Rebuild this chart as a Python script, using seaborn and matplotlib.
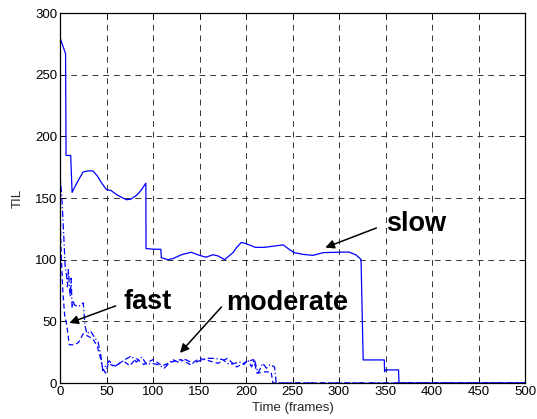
import matplotlib
matplotlib.use("Agg")
import matplotlib.pyplot as plt
import seaborn as sns
import pandas as pd

# ---- data ----
slow_x = [0, 6, 6.5, 11.5, 13, 18, 24.7, 30, 35.4, 40, 44.3, 49.7, 55, 60.4, 65, 71.5, 76, 82, 87, 92.3,
          92.5, 100, 108.4, 109, 116, 122, 130.5, 141, 150, 157, 164.5, 170, 177, 186, 190, 195, 200, 210,
          220, 230, 240, 247, 252, 261, 272, 283, 298, 310.5, 318, 323.7, 326, 348.7, 349, 350, 364, 364.5, 500]
slow_y = [280, 267, 184.5, 184.5, 154.6, 162, 171, 172, 172, 168, 162.7, 157, 156, 153, 151, 148.6, 149, 152, 156, 162,
          109, 108.5, 108.4, 101.6, 100, 101, 104, 106, 103.5, 102, 104, 103, 100, 105.7, 110, 114, 113, 110,
          110, 111, 112, 108, 105.7, 104.3, 103.5, 105.7, 106, 106.2, 104, 100.2, 18.7, 18.7, 9.2, 10.6, 10.6, 0, 0]

moderate_x = [0, 2, 4, 5.5, 7, 8, 9, 10, 11, 12, 13, 14, 16, 20, 25, 27, 29, 33, 37, 41, 44, 46, 49, 53,
              58, 64, 70, 77, 82, 88, 93, 98, 105, 112, 121, 127, 135, 143, 150, 158, 165, 175, 182, 188,
              193, 198, 202, 206, 209, 213, 218, 222, 226, 230.7, 232.5, 500]
moderate_y = [170, 150, 120, 95, 88, 78, 92, 81, 70, 85, 61, 66, 63, 62, 65, 46, 40, 42, 37, 33, 22, 10, 14, 18,
              13, 16, 19, 22, 17, 21, 15, 16, 15, 12, 19, 17, 19, 16, 18, 20, 20, 19, 15, 16,
              17, 15, 19, 13, 19, 8, 16, 12, 15, 13, 0, 0]

fast_x = [0, 1, 3, 5, 7, 8.5, 10, 12, 16, 20, 25, 30, 35, 40, 43.6, 46, 49, 52, 57, 62, 68, 75, 82, 90,
          100, 110, 120, 130, 140, 150, 160, 170, 180, 190, 200, 208, 212, 220, 227, 229, 500]
fast_y = [150, 110, 75, 55, 48, 40, 31, 31, 31, 33, 40, 38, 36, 30, 20, 12, 8, 16, 14, 15, 18, 14, 20, 15,
          19, 14, 17, 19, 15, 20, 18, 16, 20, 13, 17, 19, 8, 9, 9, 0, 0]

x_ticks = [0, 50, 100, 150, 200, 250, 300, 350, 400, 450, 500]
y_ticks = [0, 50, 100, 150, 200, 250, 300]

labels = ["slow", "fast", "moderate"]
label_text_pos = [(351, 129), (68, 66), (179, 65)]
label_arrow_tail = [(343, 126.5), (62.7, 63.3), (175.6, 63.3)]
label_arrow_tip = [(282.5, 109), (7.2, 47.9), (127, 22.7)]

# ---- plotting ----
sns.set_theme(style="white")
plt.rcParams['font.family'] = ['Liberation Sans', 'DejaVu Sans']

fig = plt.figure(figsize=(5.37, 4.19), dpi=100)
ax = fig.add_axes([60 / 537, 1 - 383 / 419, 465 / 537, 370 / 419])

blue = (0, 0, 1)
df_slow = pd.DataFrame({"x": slow_x, "y": slow_y})
df_mod = pd.DataFrame({"x": moderate_x, "y": moderate_y})
df_fast = pd.DataFrame({"x": fast_x, "y": fast_y})

sns.lineplot(data=df_slow, x="x", y="y", ax=ax, color=blue, lw=0.9, sort=False, estimator=None)
sns.lineplot(data=df_mod, x="x", y="y", ax=ax, color=blue, lw=0.9, sort=False, estimator=None,
             linestyle=(0, (5, 2, 1, 2)))
sns.lineplot(data=df_fast, x="x", y="y", ax=ax, color=blue, lw=0.9, sort=False, estimator=None,
             linestyle=(0, (4, 2.5)))

ax.set_xlim(0, 500)
ax.set_ylim(0, 300)
ax.set_xticks(x_ticks)
ax.set_yticks(y_ticks)
ax.tick_params(axis='both', which='both', direction='in', length=4, width=0.6, colors='black',
               labelsize=9.5, top=True, right=True, bottom=True, left=True, pad=2)
ax.grid(True, color='0.2', linestyle=(0, (6, 5)), linewidth=0.7)
for s in ax.spines.values():
    s.set_visible(True)
    s.set_color('black')
    s.set_linewidth(0.9)

ax.set_xlabel("Time (frames)", fontsize=9.5, labelpad=3)
ax.set_ylabel("TIL", fontsize=9.5, labelpad=8)

for lab, tp, tail, tip in zip(labels, label_text_pos, label_arrow_tail, label_arrow_tip):
    ax.text(tp[0], tp[1], lab, fontsize=19.5, fontweight='bold', ha='left', va='center', color='black')
    ax.annotate('', xy=tip, xytext=tail,
                arrowprops=dict(arrowstyle='-|>', color='black', lw=1.1, mutation_scale=13))

fig.savefig("out.png", dpi=100)
